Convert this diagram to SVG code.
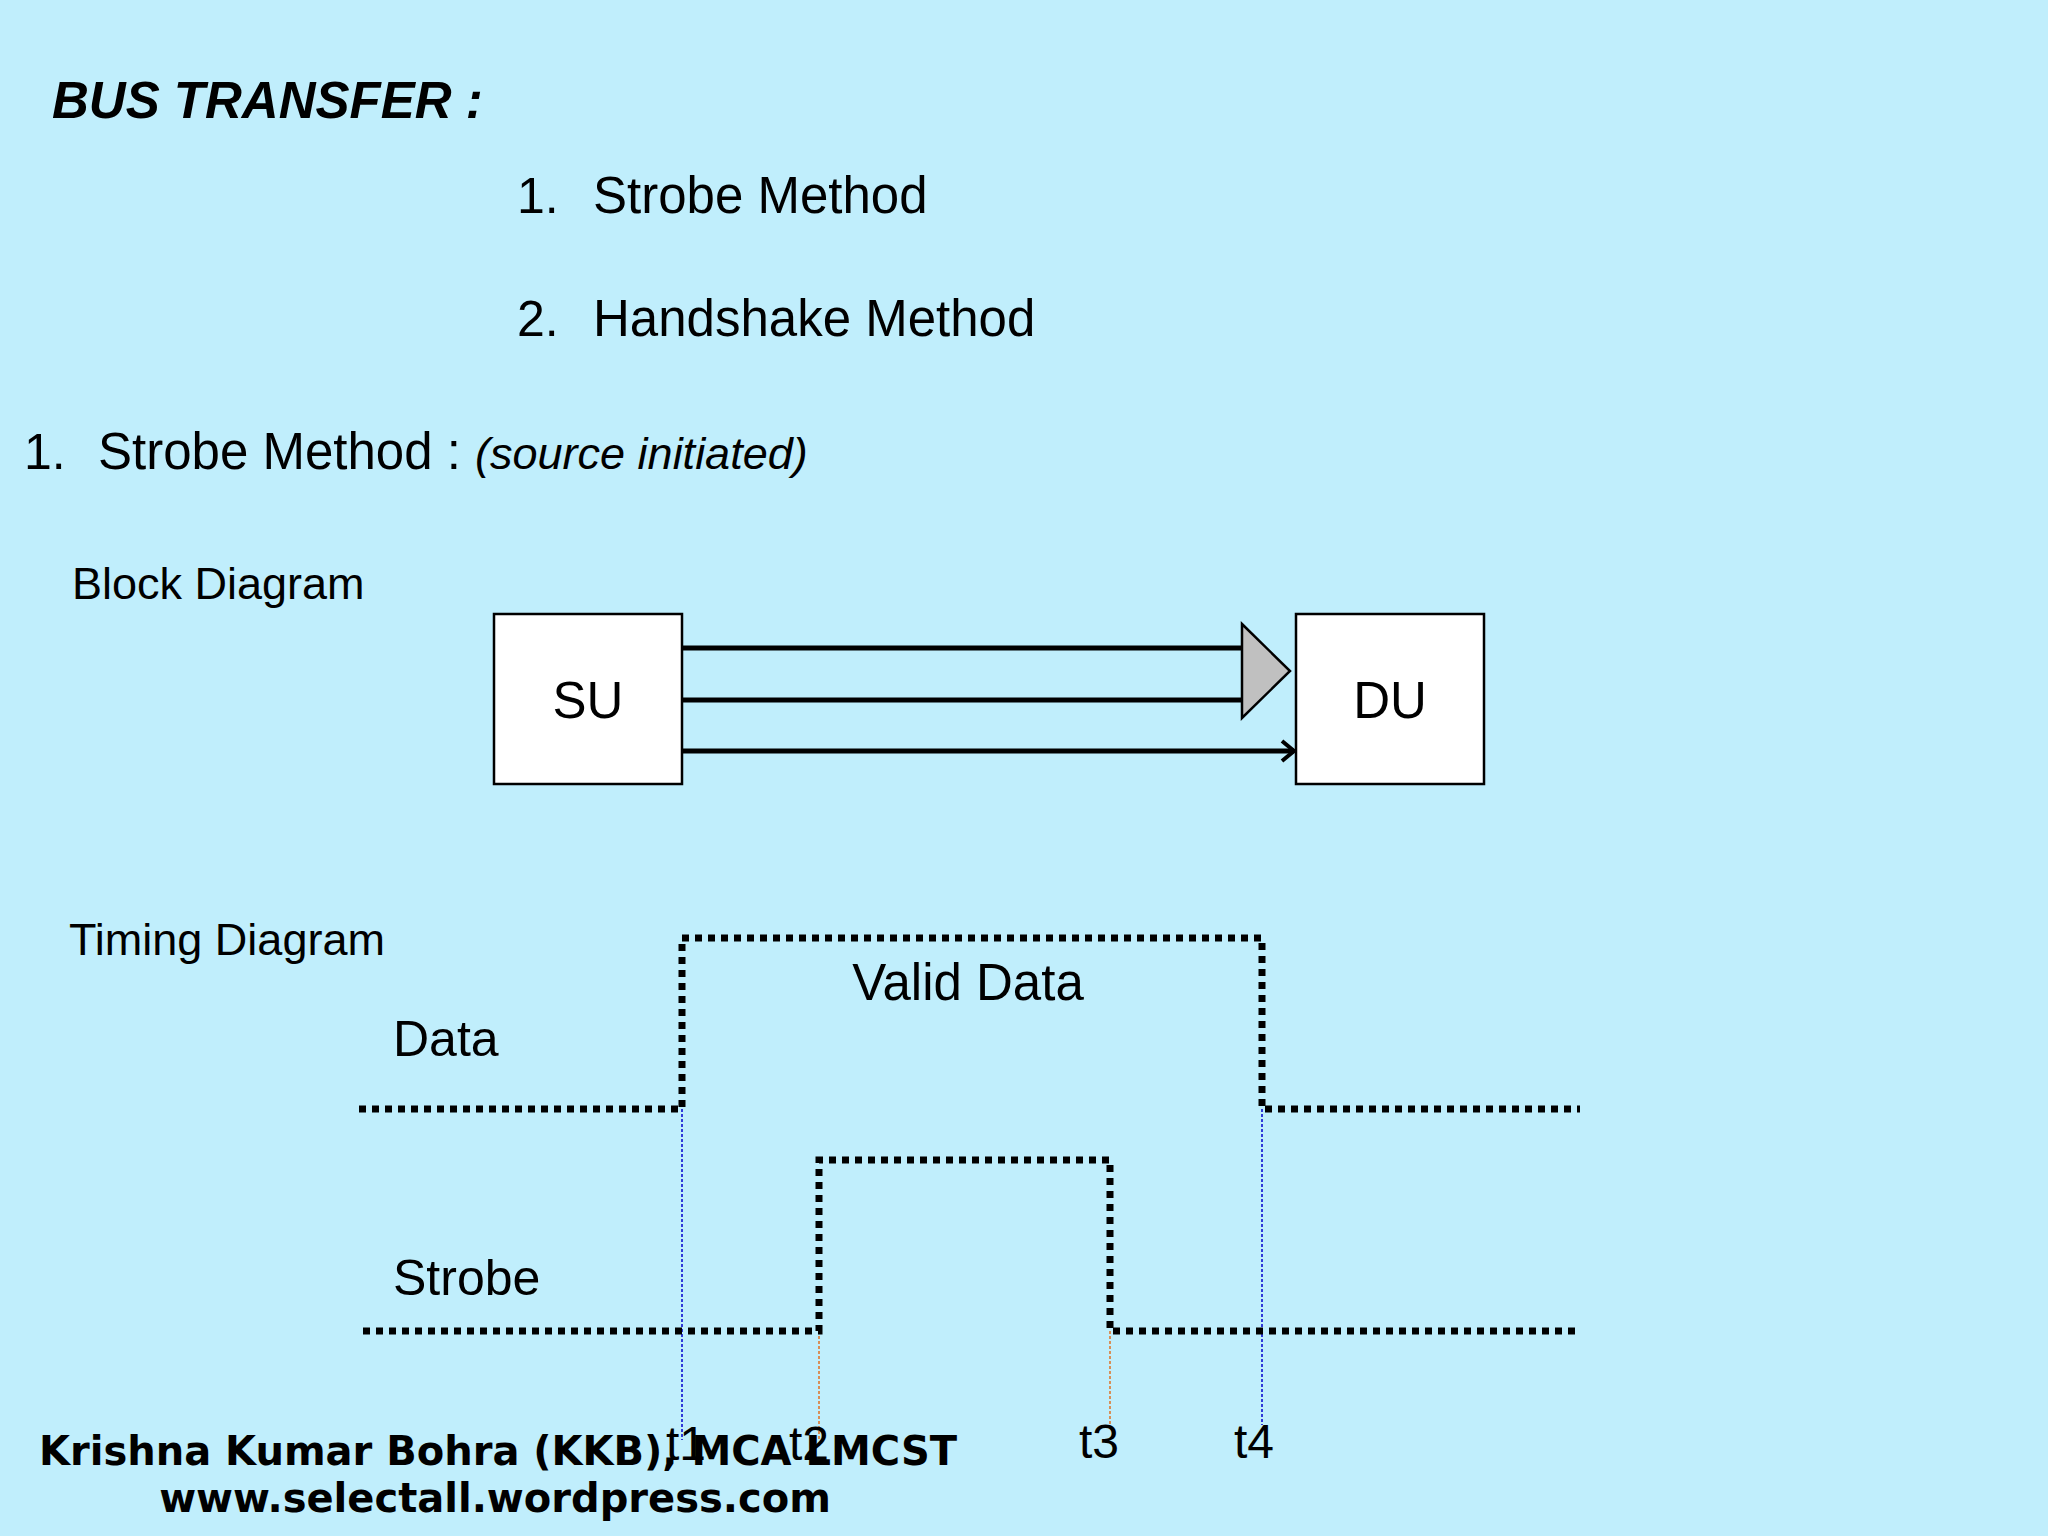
<svg xmlns="http://www.w3.org/2000/svg" width="2048" height="1536" viewBox="0 0 2048 1536">
<style>
text{font-family:"Liberation Sans",Arial,sans-serif;fill:#000}
.box{fill:#fff;stroke:#000;stroke-width:2.5}
.bus{stroke:#000;stroke-width:5;fill:none}
.wave{stroke:#000;stroke-width:7;fill:none;stroke-dasharray:7 6}
.foot{font-family:"DejaVu Sans",Verdana,sans-serif;font-weight:bold;font-size:40px}
</style>
<defs>
<marker id="open" markerWidth="16" markerHeight="24" refX="14" refY="12" orient="auto" markerUnits="userSpaceOnUse">
<path d="M2,2 L14,12 L2,22" fill="none" stroke="#000" stroke-width="4"/>
</marker>
</defs>
<rect width="2048" height="1536" fill="#C0EEFC"/>
<text x="52" y="118" font-size="51" font-weight="bold" font-style="italic">BUS TRANSFER :</text>
<text x="517" y="213" font-size="50">1.</text><text x="593" y="213" font-size="51">Strobe Method</text>
<text x="517" y="336" font-size="50">2.</text><text x="593" y="336" font-size="51">Handshake Method</text>
<text x="24" y="469" font-size="50">1.</text><text x="98" y="469" font-size="51">Strobe Method : <tspan font-style="italic" font-size="45">(source initiated)</tspan></text>
<text x="72" y="599" font-size="45">Block Diagram</text>
<g id="SU"><rect class="box" x="494" y="614" width="188" height="170"/><text x="588" y="718" font-size="51" text-anchor="middle">SU</text></g>
<g id="DU"><rect class="box" x="1296" y="614" width="188" height="170"/><text x="1390" y="718" font-size="51" text-anchor="middle">DU</text></g>
<g id="connectors">
<line class="bus" x1="682" y1="648" x2="1244" y2="648"/>
<line class="bus" x1="682" y1="700" x2="1244" y2="700"/>
<polygon points="1242,624 1290,671 1242,718" fill="#C0C0C0" stroke="#000" stroke-width="2.5"/>
<line class="bus" x1="682" y1="751" x2="1294" y2="751" marker-end="url(#open)"/>
</g>
<text x="69" y="955" font-size="45">Timing Diagram</text>
<text x="393" y="1056" font-size="50">Data</text>
<text x="968" y="1000" font-size="51" text-anchor="middle">Valid Data</text>
<text x="393" y="1295" font-size="50">Strobe</text>
<g id="guides" fill="none" stroke-width="1.5" stroke-dasharray="3 2">
<line x1="682" y1="1109" x2="682" y2="1440" stroke="#0000CC"/>
<line x1="1262" y1="1109" x2="1262" y2="1425" stroke="#0000CC"/>
<line x1="819" y1="1331" x2="819" y2="1440" stroke="#E07020"/>
<line x1="1110" y1="1331" x2="1110" y2="1425" stroke="#E07020"/>
</g>
<path class="wave" d="M359,1109 H682 V938 H1262 V1109 H1580"/>
<path class="wave" d="M363,1331 H819 V1160 H1110 V1331 H1580"/>
<text x="666" y="1460" font-size="48">t1</text>
<text x="789" y="1460" font-size="48">t2</text>
<text x="1079" y="1458" font-size="48">t3</text>
<text x="1234" y="1458" font-size="48">t4</text>
<text class="foot" x="39" y="1465">Krishna Kumar Bohra (KKB), MCA LMCST</text>
<text class="foot" x="495" y="1512" text-anchor="middle">www.selectall.wordpress.com</text>
</svg>
